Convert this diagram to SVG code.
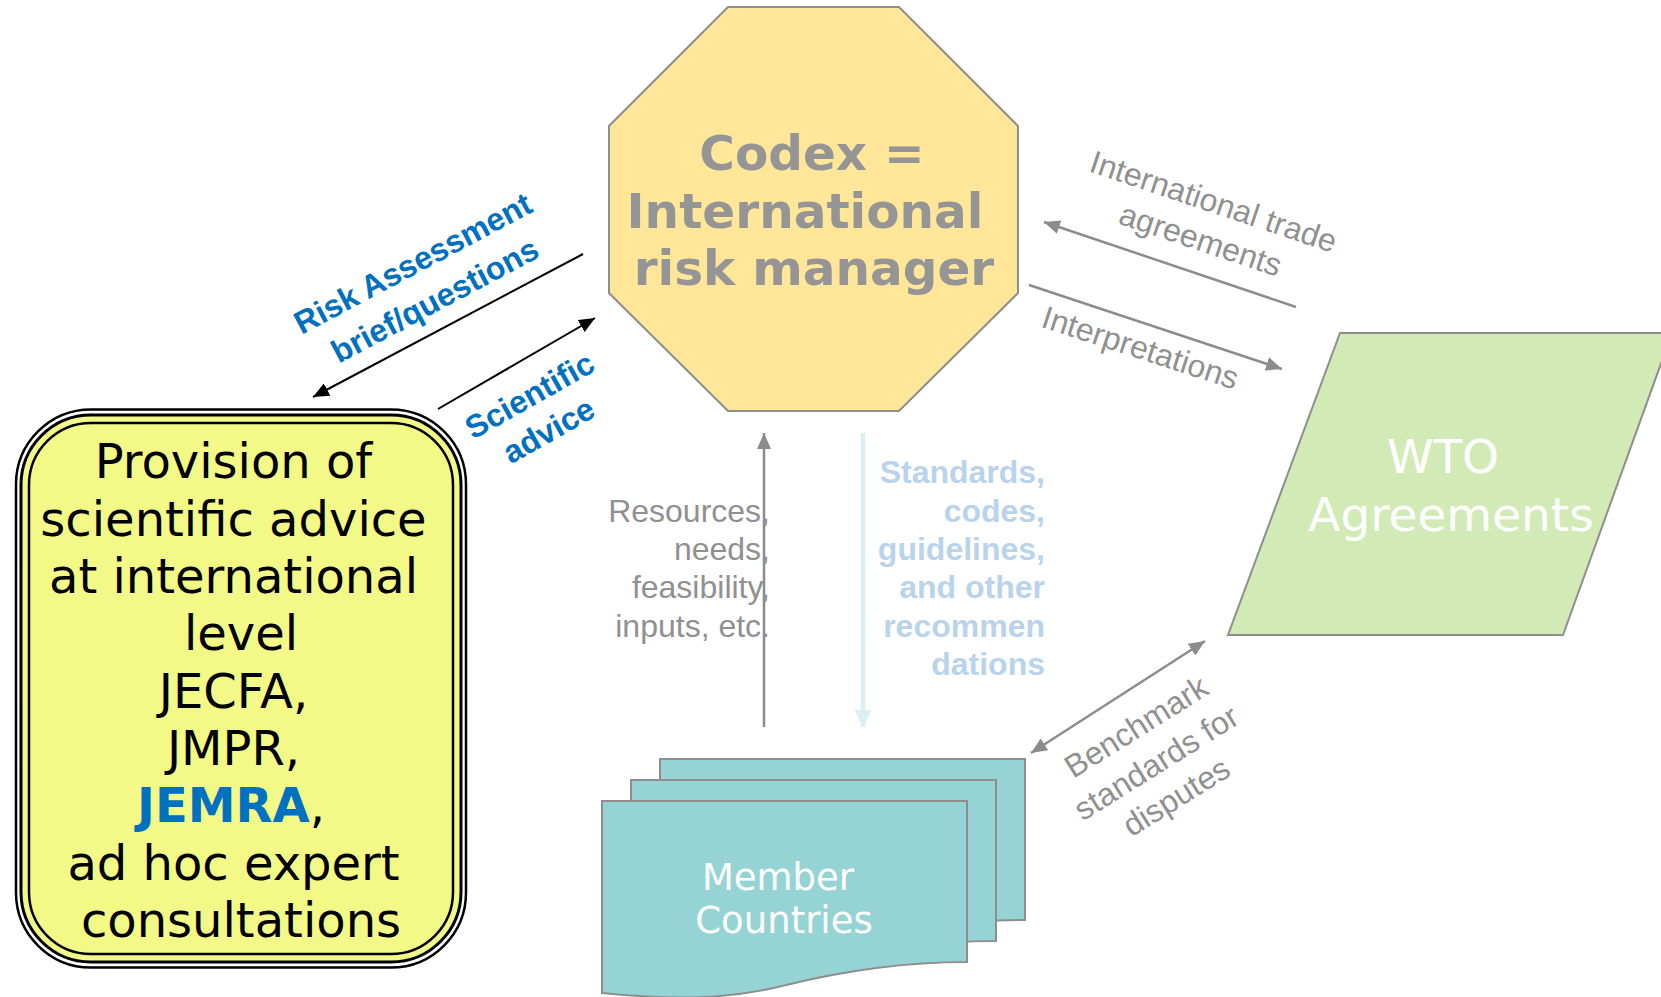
<svg xmlns="http://www.w3.org/2000/svg" xmlns:xlink="http://www.w3.org/1999/xlink" width="1661" height="997" viewBox="0 0 1661 997">
  <style>
    .verd { font-family: "DejaVu Sans", Verdana, sans-serif; }
    .arial { font-family: "Liberation Sans", Arial, sans-serif; }
    .codex { font-size: 48.5px; font-weight: bold; fill: #959595; text-anchor: middle; }
    .sci { font-size: 48px; fill: #000; text-anchor: middle; }
    .white { fill: #fff; text-anchor: middle; }
    .blue-lbl { font-size: 32px; font-weight: bold; fill: #0070C0; text-anchor: middle; }
    .gray-lbl { font-size: 32px; fill: #909090; text-anchor: middle; }
    .gray-right { font-size: 32px; fill: #909090; text-anchor: end; }
    .std-right { font-size: 32px; font-weight: bold; fill: #B9D3EC; text-anchor: end; }
    .shape-stroke { stroke: #8E8E8E; stroke-width: 2; }
    .line-black { stroke: #000; stroke-width: 2; fill: none; }
    .line-gray { stroke: #8C8C8C; stroke-width: 2.5; fill: none; }
  </style>
  <defs>
    <marker id="ah-black" markerUnits="userSpaceOnUse" markerWidth="16" markerHeight="14" refX="16" refY="7" orient="auto">
      <path d="M0,0 L16,7 L0,14 Z" fill="#000"/>
    </marker>
    <marker id="ah-gray" markerUnits="userSpaceOnUse" markerWidth="16" markerHeight="14" refX="16" refY="7" orient="auto-start-reverse">
      <path d="M0,0 L16,7 L0,14 Z" fill="#8C8C8C"/>
    </marker>
    <marker id="ah-pale" markerUnits="userSpaceOnUse" markerWidth="17" markerHeight="17" refX="17" refY="8.5" orient="auto">
      <path d="M0,0 L17,8.5 L0,17 Z" fill="#DAEEF3"/>
    </marker>
    <!-- document sheet with wavy lower edge -->
    <path id="doc-sheet" d="M0,0 H365 V161 C300,161 240,170 180,185 C120,200 60,198 0,192 Z"/>
  </defs>

  <rect width="1661" height="997" fill="#fff"/>

  <!-- Codex octagon -->
  <g id="node-codex">
    <polygon points="728,7 899,7 1018,126 1018,293 899,411 728,411 609,293 609,126" fill="#FFE699" class="shape-stroke"/>
    <text class="verd codex" x="812" y="170">Codex =</text>
    <text class="verd codex" x="805" y="228">International</text>
    <text class="verd codex" x="814" y="285">risk manager</text>
  </g>

  <!-- Scientific advice provider -->
  <g id="node-science">
    <rect x="16" y="409.5" width="450" height="558" rx="75" ry="75" fill="#fff" stroke="#000" stroke-width="2.5"/>
    <rect x="21" y="415" width="440" height="547" rx="70" ry="70" fill="#F2F986" stroke="#000" stroke-width="3"/>
    <rect x="29" y="423" width="424" height="531" rx="62" ry="62" fill="#F2F986" stroke="#000" stroke-width="2.5"/>
    <text class="verd sci" x="233.5" y="478">Provision of</text>
    <text class="verd sci" x="233.5" y="535.5">scientific advice</text>
    <text class="verd sci" x="233.5" y="593">at international</text>
    <text class="verd sci" x="241" y="650">level</text>
    <text class="verd sci" x="233.5" y="707.5">JECFA,</text>
    <text class="verd sci" x="233.5" y="765">JMPR,</text>
    <text class="verd sci" x="231" y="822"><tspan font-weight="bold" fill="#0070C0">JEMRA</tspan>,</text>
    <text class="verd sci" x="233.5" y="879.5">ad hoc expert</text>
    <text class="verd sci" x="241" y="937">consultations</text>
  </g>

  <!-- WTO agreements -->
  <g id="node-wto">
    <polygon points="1340,333 1672,333 1563,635 1228,635" fill="#D2EBB6" class="shape-stroke"/>
    <text class="verd white" font-size="47" x="1443" y="473">WTO</text>
    <text class="verd white" font-size="47" x="1451" y="531">Agreements</text>
  </g>

  <!-- Member countries (stack of sheets) -->
  <g id="node-members" fill="#96D3D4" class="shape-stroke">
    <use xlink:href="#doc-sheet" href="#doc-sheet" transform="translate(660,759)"/>
    <use xlink:href="#doc-sheet" href="#doc-sheet" transform="translate(631,780)"/>
    <use xlink:href="#doc-sheet" href="#doc-sheet" transform="translate(602,801)"/>
  </g>
  <g id="node-members-label">
    <text class="verd white" font-size="37" x="778" y="890">Member</text>
    <text class="verd white" font-size="37" x="784" y="933">Countries</text>
  </g>

  <!-- Connectors -->
  <g id="connectors">
    <line class="line-black" x1="583" y1="254" x2="313" y2="397" marker-end="url(#ah-black)"/>
    <line class="line-black" x1="438" y1="409" x2="595" y2="318" marker-end="url(#ah-black)"/>
    <line class="line-gray" x1="1296" y1="307" x2="1044" y2="222" marker-end="url(#ah-gray)"/>
    <line class="line-gray" x1="1029" y1="285" x2="1282" y2="369" marker-end="url(#ah-gray)"/>
    <line class="line-gray" x1="764" y1="727" x2="764" y2="433" marker-end="url(#ah-gray)"/>
    <line x1="863" y1="433" x2="863" y2="727" stroke="#DAEEF3" stroke-width="4.5" marker-end="url(#ah-pale)"/>
    <line class="line-gray" x1="1205" y1="641" x2="1031" y2="753" marker-start="url(#ah-gray)" marker-end="url(#ah-gray)"/>
  </g>

  <!-- Connector labels -->
  <g id="labels">
    <text class="arial blue-lbl" transform="translate(418,273) rotate(-28)">Risk Assessment</text>
    <text class="arial blue-lbl" transform="translate(440,310) rotate(-28)">brief/questions</text>
    <text class="arial blue-lbl" transform="translate(535,405) rotate(-29.5)">Scientific</text>
    <text class="arial blue-lbl" transform="translate(554,440) rotate(-29.5)">advice</text>

    <text class="arial gray-lbl" transform="translate(1210,212) rotate(18.5)">International trade</text>
    <text class="arial gray-lbl" transform="translate(1197,250) rotate(18.5)">agreements</text>
    <text class="arial gray-lbl" transform="translate(1137,358) rotate(18)">Interpretations</text>

    <text class="arial gray-right" x="770" y="522">Resources,</text>
    <text class="arial gray-right" x="770" y="560">needs,</text>
    <text class="arial gray-right" x="770" y="598">feasibility,</text>
    <text class="arial gray-right" x="770" y="637">inputs, etc.</text>

    <text class="arial std-right" x="1045" y="483">Standards,</text>
    <text class="arial std-right" x="1045" y="521.5">codes,</text>
    <text class="arial std-right" x="1045" y="560">guidelines,</text>
    <text class="arial std-right" x="1045" y="598">and other</text>
    <text class="arial std-right" x="1045" y="637">recommen</text>
    <text class="arial std-right" x="1045" y="675">dations</text>

    <text class="arial gray-lbl" transform="translate(1142,736) rotate(-32)">Benchmark</text>
    <text class="arial gray-lbl" transform="translate(1162,772) rotate(-32)">standards for</text>
    <text class="arial gray-lbl" transform="translate(1182,806) rotate(-32)">disputes</text>
  </g>
</svg>
